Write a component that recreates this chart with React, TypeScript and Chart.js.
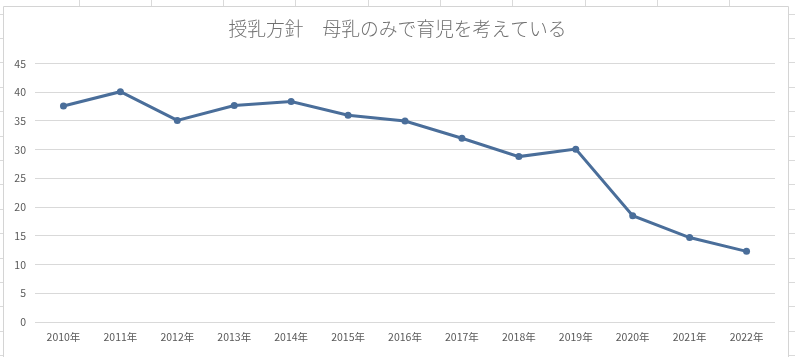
import React, { useEffect, useRef } from "react";
import { Chart, registerables } from "chart.js";

Chart.register(...registerables);

const titleText = "授乳方針　母乳のみで育児を考えている";
const categories = [
  "2010年", "2011年", "2012年", "2013年", "2014年", "2015年", "2016年",
  "2017年", "2018年", "2019年", "2020年", "2021年", "2022年",
];
const breastMilkOnly = [37.6, 40.1, 35.1, 37.7, 38.4, 36.0, 35.0, 32.0, 28.8, 30.1, 18.5, 14.7, 12.3];
const yMin = 0;
const yMax = 45;
const yStep = 5;

const sheetPlugin = {
  id: "sheetBackdrop",
  beforeDraw(chart: any) {
    const ctx = chart.ctx;
    const w = chart.width;
    const h = chart.height;
    ctx.save();
    ctx.fillStyle = "#ffffff";
    ctx.fillRect(0, 0, w, h);
    ctx.strokeStyle = "#dadada";
    ctx.lineWidth = 1;
    ctx.beginPath();
    for (let x = 78.5; x < w; x += 72.3) {
      ctx.moveTo(Math.round(x) + 0.5, 0);
      ctx.lineTo(Math.round(x) + 0.5, 6);
    }
    for (let y = 13.5; y < h; y += 24.4) {
      ctx.moveTo(0, Math.round(y) + 0.5);
      ctx.lineTo(3, Math.round(y) + 0.5);
      ctx.moveTo(789, Math.round(y) + 0.5);
      ctx.lineTo(w, Math.round(y) + 0.5);
    }
    ctx.stroke();
    ctx.strokeStyle = "#d4d4d4";
    ctx.beginPath();
    ctx.moveTo(3.5, h);
    ctx.lineTo(3.5, 6.5);
    ctx.lineTo(788.5, 6.5);
    ctx.lineTo(788.5, h);
    ctx.stroke();
    ctx.restore();
  },
};

export default function App() {
  const ref = useRef<HTMLCanvasElement | null>(null);
  useEffect(() => {
    document.body.style.margin = "0";
    const canvas = ref.current;
    if (!canvas) return;
    const chart = new Chart(canvas, {
      type: "line",
      data: {
        labels: categories,
        datasets: [
          {
            label: titleText,
            data: breastMilkOnly,
            borderColor: "#4a6e9a",
            backgroundColor: "#4a6e9a",
            borderWidth: 3,
            pointRadius: 3.5,
            pointBorderWidth: 0,
            pointBackgroundColor: "#4a6e9a",
            tension: 0,
          },
        ],
      },
      options: {
        animation: false,
        responsive: false,
        maintainAspectRatio: false,
        layout: { padding: { left: 10, right: 10, top: 0, bottom: 0 } },
        plugins: {
          legend: { display: false },
          tooltip: { enabled: false },
          title: {
            display: true,
            text: titleText,
            color: "#707070",
            font: { family: "'Noto Sans CJK JP', sans-serif", size: 18.8, weight: "300" as any, lineHeight: 1.2 },
            padding: { top: 18, bottom: 23 },
          },
        },
        scales: {
          x: {
            offset: true,
            grid: { display: false, drawTicks: false, offset: true },
            border: { display: false },
            ticks: {
              color: "#595959",
              font: { family: "'Noto Sans CJK JP', sans-serif", size: 10.5 },
              padding: 9,
              maxRotation: 0,
              autoSkip: false,
            },
            afterFit(scale: any) {
              scale.height = 35;
            },
          },
          y: {
            min: yMin,
            max: yMax,
            grid: { color: "#d9d9d9", drawTicks: false, lineWidth: 1 },
            border: { display: false },
            ticks: {
              stepSize: yStep,
              color: "#595959",
              font: { family: "'Noto Sans CJK JP', sans-serif", size: 10.5 },
              padding: 9,
            },
            afterFit(scale: any) {
              scale.width = 25;
            },
          },
          ySpacer: {
            type: "linear",
            position: "right",
            display: true,
            grid: { display: false, drawTicks: false },
            border: { display: false },
            ticks: { display: false },
            afterFit(scale: any) {
              scale.width = 10;
            },
          },
        },
      },
      plugins: [sheetPlugin],
    });
    return () => chart.destroy();
  }, []);
  return (
    <div style={{ position: "fixed", left: 0, top: 0, width: 795, height: 357 }}>
      <canvas ref={ref} width={795} height={357} style={{ display: "block", width: 795, height: 357 }} />
    </div>
  );
}
